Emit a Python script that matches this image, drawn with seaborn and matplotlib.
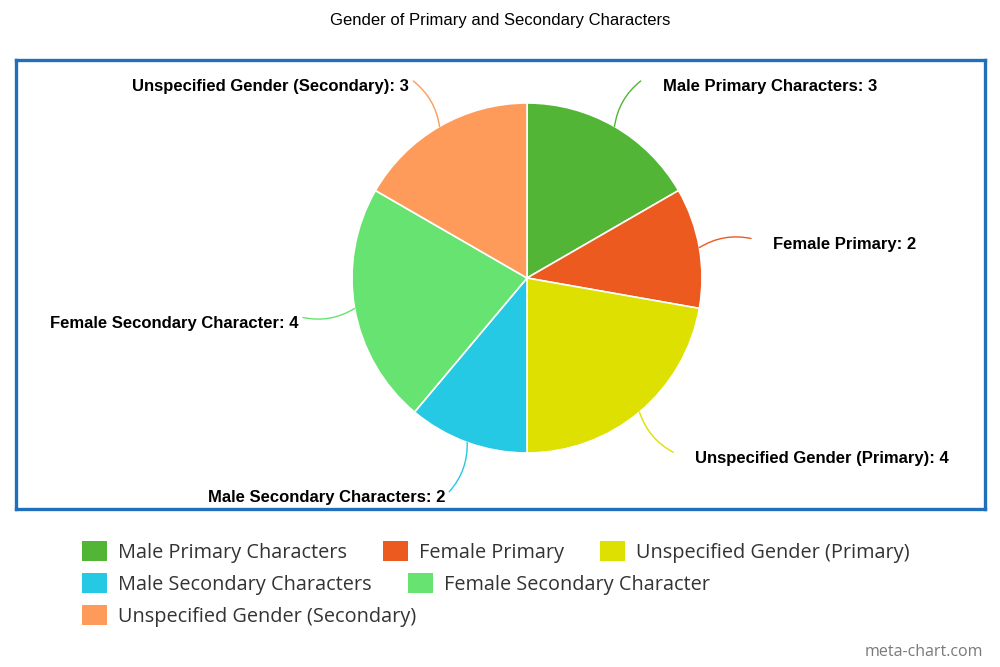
import numpy as np
import matplotlib
matplotlib.use("Agg")
import matplotlib.pyplot as plt
import seaborn as sns
from matplotlib.patches import Patch

# ---- data ----
categories = ["Male Primary Characters", "Female Primary", "Unspecified Gender (Primary)",
              "Male Secondary Characters", "Female Secondary Character",
              "Unspecified Gender (Secondary)"]
counts = [3, 2, 4, 2, 4, 3]
colors = ["#52b535", "#ec5a1f", "#dde000", "#26c9e3", "#66e371", "#fe9a5a"]
title = "Gender of Primary and Secondary Characters"
watermark = "meta-chart.com"

sns.set_theme(style="white")
plt.rcParams["font.family"] = ["Liberation Sans", "DejaVu Sans"]

W, H = 1000, 667
fig = plt.figure(figsize=(W / 100, H / 100), dpi=100)
fig.patch.set_facecolor("white")

# plot box (pixels) and pie geometry
bx0, by0, bx1, by1 = 16, 60, 985, 509
cx, cy, R = 527, 278, 175
ax = fig.add_axes([bx0 / W, 1 - by1 / H, (bx1 - bx0) / W, (by1 - by0) / H])

palette = sns.color_palette(colors)
wedges, _ = ax.pie(counts, colors=palette, startangle=90, counterclock=False, radius=1,
                   wedgeprops=dict(edgecolor="white", linewidth=1.2))
ax.set_aspect("auto")
ax.set_xlim((bx0 - cx) / R, (bx1 - cx) / R)
ax.set_ylim((cy - by1) / R, (cy - by0) / R)
ax.set_frame_on(True)
for s in ax.spines.values():
    s.set_visible(True)
    s.set_color("#1f6fba")
    s.set_linewidth(2.4)
ax.set_xticks([])
ax.set_yticks([])

# data labels with curved connectors
for w, lab, val, col in zip(wedges, categories, counts, colors):
    th = np.deg2rad((w.theta1 + w.theta2) / 2)
    c, s = np.cos(th), np.sin(th)
    start = (c, s)
    end = (1.3 * c, 1.3 * s)
    right = c >= 0
    sign = 1 if np.sin(2 * th) >= 0 else -1
    ax.annotate("", xy=start, xytext=end,
                arrowprops=dict(arrowstyle="-", color=col, lw=1.0, shrinkA=0, shrinkB=0,
                                connectionstyle=f"arc3,rad={0.2 * sign}"))
    dx = 22 / R if right else -4 / R
    ax.text(end[0] + dx, end[1] - 6 / R, f"{lab}: {val}",
            ha="left" if right else "right", va="center",
            fontsize=12, fontweight="bold", color="black")

# title
fig.text(0.5, 1 - 21 / H, title, ha="center", va="center", fontsize=12, color="black")

# legend in flowing rows
rows = [[0, 1, 2], [3, 4], [5]]
row_y = [552, 584, 616]
fs = 14.3
fpx = fs * 100 / 72
for r, y in zip(rows, row_y):
    handles = [Patch(facecolor=colors[i], edgecolor="none") for i in r]
    leg = fig.legend(handles, [categories[i] for i in r], loc="center left",
                     bbox_to_anchor=(82 / W, 1 - y / H), ncol=len(r), frameon=False,
                     prop=dict(family="Open Sans", size=fs),
                     handlelength=25 / fpx, handleheight=22 / fpx,
                     handletextpad=11 / fpx, columnspacing=36 / fpx,
                     borderpad=0, borderaxespad=0)
    for t in leg.get_texts():
        t.set_color("#333333")

fig.text(983 / W, 1 - 652 / H, watermark, ha="right", va="center",
         color="#7a7a7a", fontsize=11.5, family="Open Sans")

fig.savefig("out.png", dpi=100)
